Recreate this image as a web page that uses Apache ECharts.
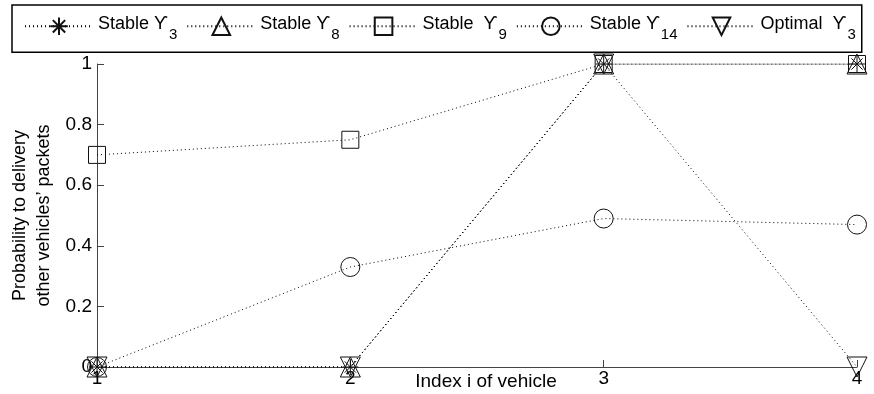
<!DOCTYPE html>
<html>
<head>
<meta charset="utf-8">
<script src="https://cdn.jsdelivr.net/npm/echarts@6/dist/echarts.min.js"></script>
<style>html,body{margin:0;padding:0;background:#fff;}#c{width:874px;height:394px;}</style>
</head>
<body>
<div id="c"></div>
<script>
var categories = [1, 2, 3, 4];
var stable3 = [0, 0, 1, 1];
var stable8 = [0, 0, 1, 1];
var stable9 = [0.70, 0.75, 1, 1];
var stable14 = [0, 0.33, 0.49, 0.47];
var optimal3 = [0, 0, 1, 0];
var yTicks = [0, 0.2, 0.4, 0.6, 0.8, 1];
var seriesNames = ['Stable \u03D2|3', 'Stable \u03D2|8', 'Stable  \u03D2|9', 'Stable \u03D2|14', 'Optimal  \u03D2|3'];

var asterisk = 'path://M0,-1L0,1M-1,0L1,0M-0.7,-0.7L0.7,0.7M-0.7,0.7L0.7,-0.7';

function pairs(vals) { return categories.map(function (c, i) { return [c, vals[i]]; }); }

var lineStyle = { color: '#000', width: 1, type: [1, 3] };
var itemStyle = { color: 'none', borderColor: '#111', borderWidth: 1 };

function mk(name, vals, symbol, size, rotate) {
  return {
    name: name, type: 'line', data: pairs(vals), symbol: symbol, symbolSize: size,
    symbolRotate: rotate || 0, symbolKeepAspect: true, showAllSymbol: true,
    lineStyle: lineStyle, itemStyle: itemStyle, emphasis: { disabled: true }
  };
}

var chart = echarts.init(document.getElementById('c'), null, { renderer: 'canvas' });
chart.setOption({
  animation: false,
  textStyle: { fontFamily: 'Liberation Sans, Arial, sans-serif', color: '#000' },
  grid: { left: 97, right: 17, top: 64, bottom: 27, containLabel: false, outerBoundsMode: 'none' },
  legend: {
    left: 12, top: 5, padding: [10, 6, 10, 12], itemGap: 9, itemWidth: 68, itemHeight: 22,
    borderColor: '#000', borderWidth: 1.5, backgroundColor: '#fff',
    data: seriesNames,
    formatter: function (n) { var p = n.split('|'); return '{a|' + p[0] + '}{s|' + p[1] + '}'; },
    textStyle: {
      rich: {
        a: { fontSize: 18, color: '#000', fontFamily: 'Liberation Sans, DejaVu Sans, sans-serif', lineHeight: 22, verticalAlign: 'top', padding: [0, 0, 0, 0] },
        s: { fontSize: 15, color: '#000', fontFamily: 'Liberation Sans, sans-serif', lineHeight: 22, verticalAlign: 'top', padding: [12, 0, 0, 1] }
      }
    }
  },
  xAxis: {
    type: 'value', min: 1, max: 4, interval: 1,
    name: 'Index i of vehicle', nameLocation: 'middle', nameGap: 5, nameMoveOverlap: false,
    nameTextStyle: { fontSize: 19, color: '#000', verticalAlign: 'top', padding: [0, 0, 0, 18] },
    axisLine: { lineStyle: { color: '#444', width: 1 } },
    axisTick: { inside: true, length: 7, lineStyle: { color: '#444' } },
    axisLabel: { fontSize: 19, color: '#000', margin: 2 },
    splitLine: { show: false }
  },
  yAxis: {
    type: 'value', min: 0, max: 1, interval: 0.2,
    name: 'Probability to delivery\nother vehicles\u2019 packets', nameLocation: 'middle', nameGap: 41, nameMoveOverlap: false,
    nameTextStyle: { fontSize: 18, color: '#000', lineHeight: 24 },
    axisLine: { show: true, lineStyle: { color: '#444', width: 1 } },
    axisTick: { show: true, inside: true, length: 7, lineStyle: { color: '#444' } },
    axisLabel: { fontSize: 19, color: '#000', margin: 5, formatter: function (v) { return String(+v.toFixed(1)); } },
    splitLine: { show: false }
  },
  series: [
    mk(seriesNames[0], stable3, asterisk, 16),
    mk(seriesNames[1], stable8, 'triangle', 20),
    mk(seriesNames[2], stable9, 'rect', 17),
    mk(seriesNames[3], stable14, 'circle', 19),
    mk(seriesNames[4], optimal3, 'triangle', 20, 180)
  ]
});
</script>
</body>
</html>
